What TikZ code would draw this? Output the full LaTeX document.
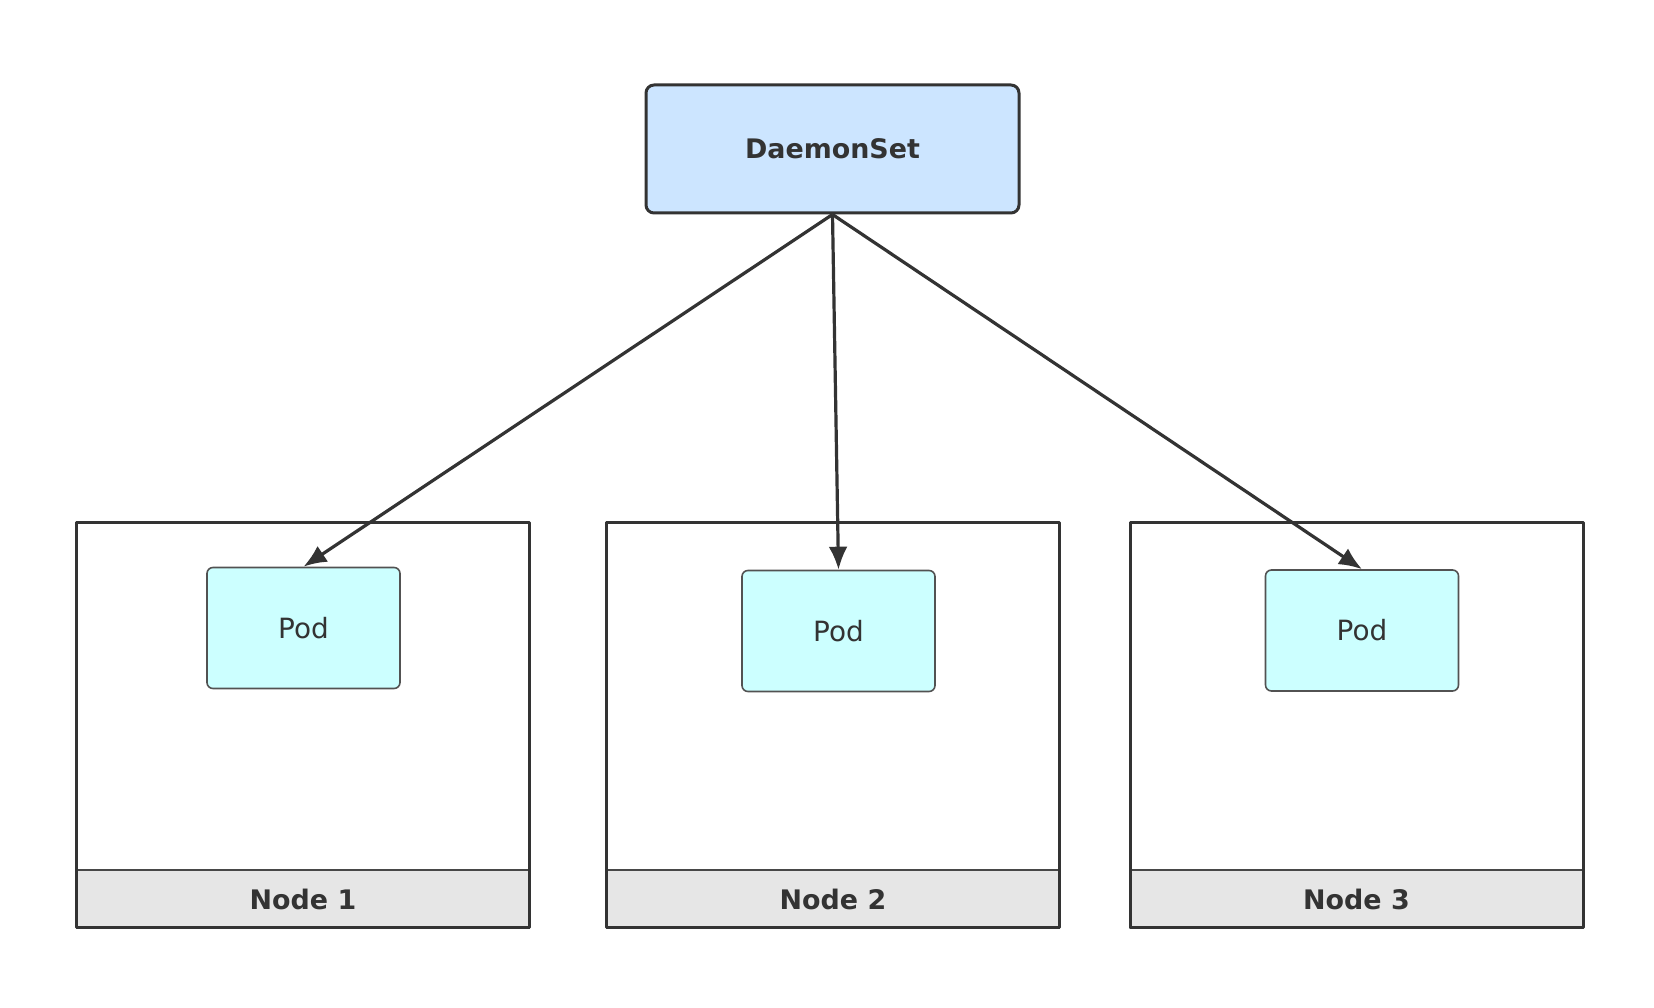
\documentclass[tikz,border=0pt]{standalone}
\usepackage{fontspec}
\setmainfont{DejaVu Sans}
\usetikzlibrary{arrows.meta}
\definecolor{dsblue}{HTML}{CCE5FF}
\definecolor{podcyan}{HTML}{CCFFFF}
\definecolor{bandgray}{HTML}{E6E6E6}
\definecolor{edgedark}{HTML}{333333}
\tikzset{
  ds/.style={draw=edgedark,line width=3bp,fill=dsblue,rounded corners=8bp,minimum width=373bp,minimum height=128bp,font=\fontsize{27}{32}\selectfont\bfseries,text=edgedark},
  pod/.style={draw=edgedark!85,line width=1.6bp,fill=podcyan,rounded corners=6bp,minimum width=193bp,minimum height=121bp,font=\fontsize{28}{33}\selectfont,text=edgedark},
  host/.style={draw=edgedark,line width=3bp,minimum width=453bp,minimum height=405bp},
  band/.style={draw=edgedark!90,line width=1.8bp,fill=bandgray,minimum width=453bp,minimum height=58bp,font=\fontsize{27}{32}\selectfont\bfseries,text=edgedark},
}
\begin{document}
\begin{tikzpicture}[>={Latex[length=23bp,width=19bp]},line join=bevel]
\useasboundingbox (0bp,0bp) rectangle (1654bp,1008bp);
%%
\node (daemonset) at (832.5bp,859bp) [ds] {DaemonSet};
  \node (label_1) at (303bp,109bp) [band] {Node 1};
  \node (label_2) at (833bp,109bp) [band] {Node 2};
  \node (label_3) at (1356.5bp,109bp) [band] {Node 3};
  \node (node_1) at (303bp,282.5bp) [host] {};
  \node (node_2) at (833bp,282.5bp) [host] {};
  \node (node_3) at (1356.5bp,282.5bp) [host] {};
  \node (pod_1) at (303.5bp,380bp) [pod] {Pod};
  \node (pod_2) at (838.5bp,377bp) [pod] {Pod};
  \node (pod_3) at (1362bp,377.5bp) [pod] {Pod};
  \draw [edgedark,line width=3.2bp,->] (daemonset.south) -- (pod_1.north);
  \draw [edgedark,line width=3.2bp,->] (daemonset.south) -- (pod_2.north);
  \draw [edgedark,line width=3.2bp,->] (daemonset.south) -- (pod_3.north);
%
\end{tikzpicture}
\end{document}
